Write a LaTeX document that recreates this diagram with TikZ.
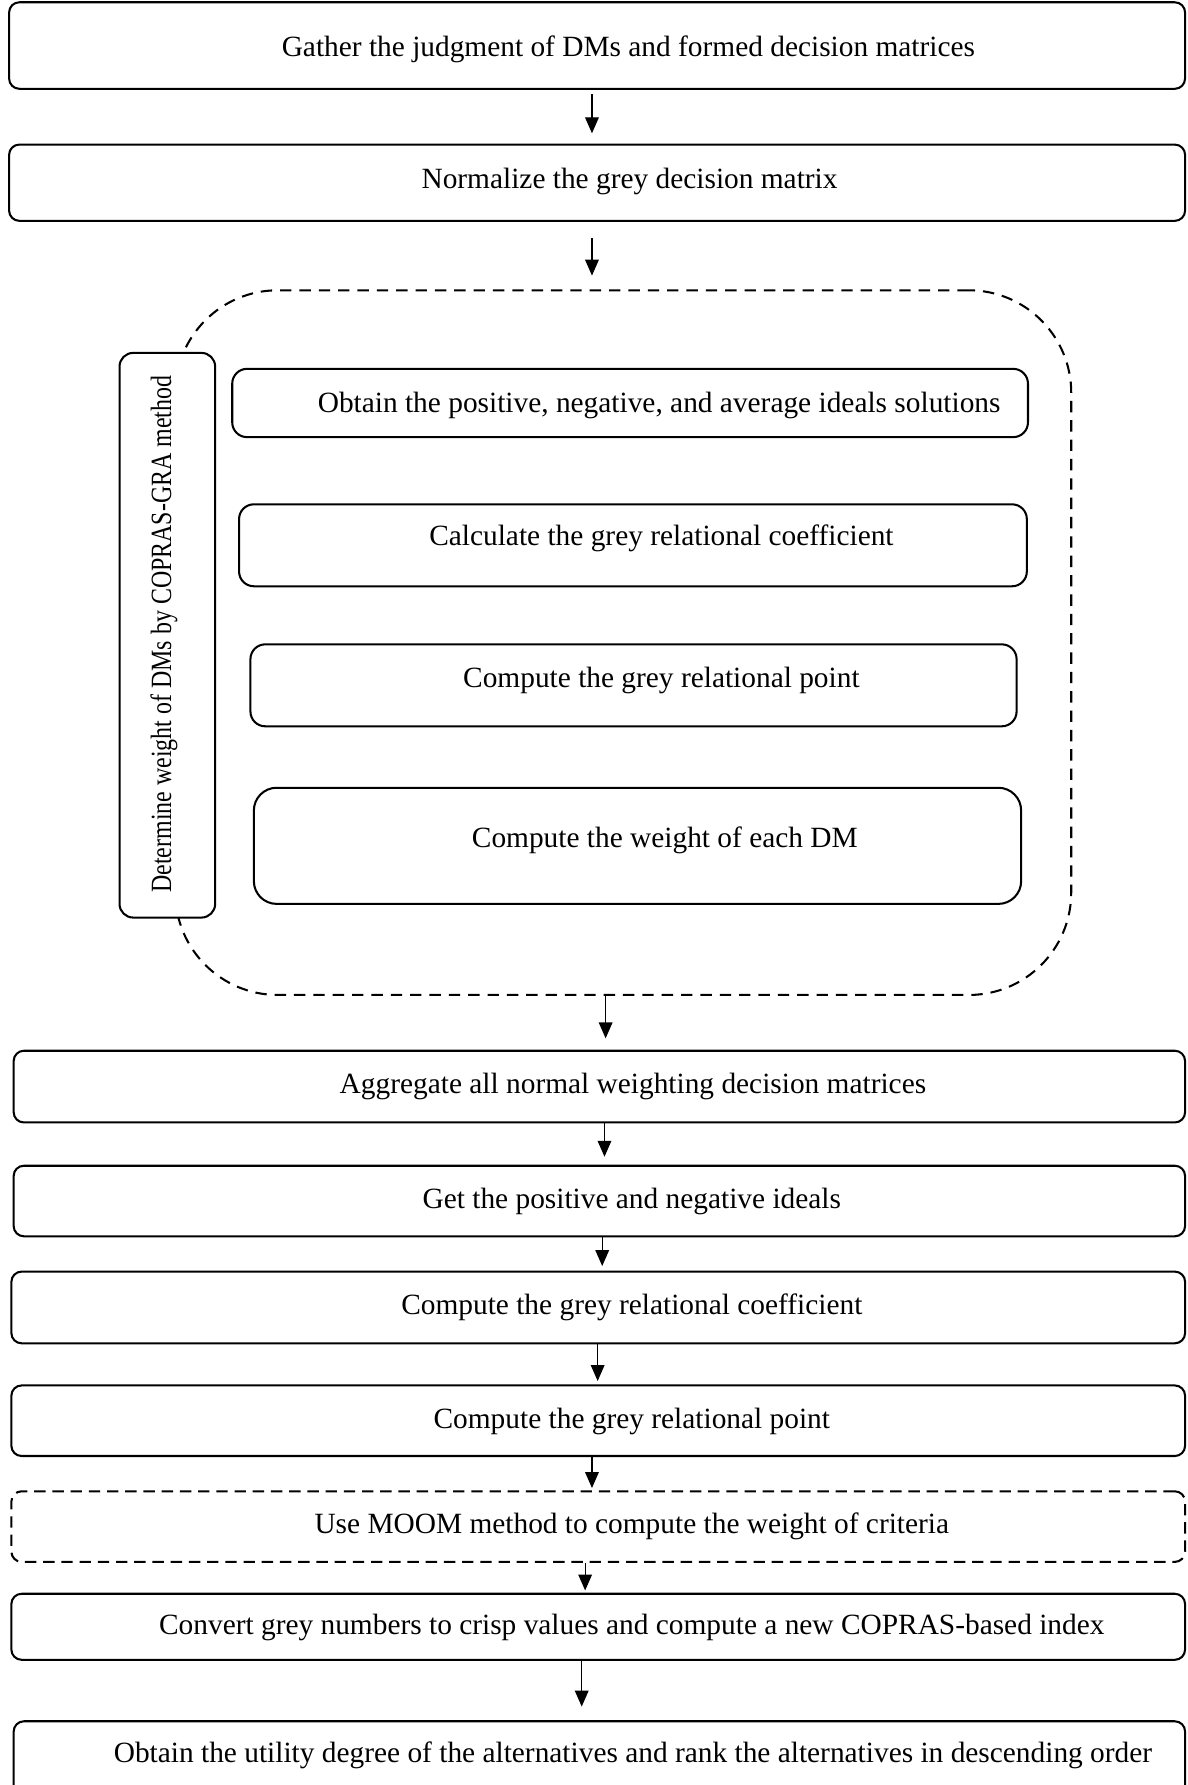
\documentclass[tikz,border=0pt]{standalone}
\usepackage{fontspec}
\setmainfont{Liberation Serif}
\usetikzlibrary{arrows.meta}
\definecolor{RuleCol}{RGB}{0,0,0}
\tikzset{
  fcbox/.style={draw=RuleCol, line width=1.8pt, rounded corners=9pt, inner sep=0pt},
  fcdash/.style={fcbox, dash pattern=on 10pt off 6pt},
  fcinner/.style={fcbox, rounded corners=13pt},
  fcgroup/.style={draw=RuleCol, line width=1.8pt, dash pattern=on 10pt off 7pt, rounded corners=90pt, inner sep=0pt},
  fcside/.style={fcbox, fill=white, rounded corners=12pt},
  fcarrow/.style={-{Triangle[length=14pt,width=12pt]}, line width=1.1pt, draw=RuleCol},
  fclab/.style={font=\fontsize{25.8}{30}\selectfont, inner sep=0pt, yshift=-3pt},
  fcsidelab/.style={font=\fontsize{25.8}{30}\selectfont, inner sep=0pt, rotate=90}
}
% box: name, style, left, right, top, bottom, text x, text y, text
\newcommand{\FCStep}[9]{%
  \node[#2, minimum width={#4-#3}, minimum height={#6-#5}] (#1) at ({(#3+#4)/2},{-(#5+#6)/2}) {};
  \node[fclab] (#1-t) at (#7,-#8) {#9};
}

\begin{document}
\begin{tikzpicture}[x=1pt,y=1pt]
  \useasboundingbox (0,0) rectangle (1043,-1568);
  % main column
  \FCStep{gather}{fcbox}{8}{1041}{2}{78}{552}{40}{Gather the judgment of DMs and formed decision matrices}
  \FCStep{normal}{fcbox}{8}{1041}{127}{194}{553}{156}{Normalize the grey decision matrix}
  \FCStep{aggr}{fcbox}{12}{1041}{923}{986}{556}{951}{Aggregate all normal weighting decision matrices}
  \FCStep{ideal}{fcbox}{12}{1041}{1024}{1086}{555}{1052}{Get the positive and negative ideals}
  \FCStep{coef}{fcbox}{10}{1041}{1117}{1180}{555}{1145}{Compute the grey relational coefficient}
  \FCStep{point}{fcbox}{10}{1041}{1217}{1279}{555}{1246}{Compute the grey relational point}
  \FCStep{moom}{fcdash}{10}{1041}{1310}{1372}{555}{1338}{Use MOOM method to compute the weight of criteria}
  \FCStep{crisp}{fcbox}{10}{1041}{1400}{1458}{555}{1427}{Convert grey numbers to crisp values and compute a new COPRAS-based index}
  \FCStep{rank}{fcbox}{12}{1041}{1512}{1610}{556}{1539}{Obtain the utility degree of the alternatives and rank the alternatives in descending order}
  % COPRAS-GRA group
  \node[fcgroup, minimum width=787, minimum height=619] (copras) at (547.5,-564.5) {};
  \node[fcside, minimum width=84, minimum height=496] (side) at (147,-558) {};
  \node[fcsidelab] (side-t) at (144,-557) {\scalebox{0.815}[1]{Determine weight of DMs by COPRAS-GRA method}};
  \FCStep{solut}{fcinner}{204}{903}{324}{384}{579}{353}{Obtain the positive, negative, and average ideals solutions}
  \FCStep{calc}{fcinner}{210}{902}{443}{515}{581}{470}{Calculate the grey relational coefficient}
  \FCStep{gpoint}{fcinner}{220}{893}{566}{638}{581}{595}{Compute the grey relational point}
  \FCStep{dmw}{fcinner, rounded corners=20pt}{223}{897}{692}{794}{584}{735}{Compute the weight of each DM}
  % arrows
  \draw[fcarrow, shorten <=4pt, shorten >=9pt] ([xshift=-4.5pt]gather.south) -- ([xshift=-4.5pt]normal.north);
  \draw[fcarrow, shorten <=14pt, shorten >=12pt] ([xshift=-4.5pt]normal.south) -- ([xshift=-27.5pt]copras.north);
  \draw[fcarrow, shorten >=10pt] ([xshift=-15.5pt]copras.south) -- ([xshift=5.5pt]aggr.north);
  \draw[fcarrow, shorten >=7pt] ([xshift=4.5pt]aggr.south) -- ([xshift=4.5pt]ideal.north);
  \draw[fcarrow, shorten >=4pt] ([xshift=2.5pt]ideal.south) -- ([xshift=3.5pt]coef.north);
  \draw[fcarrow, shorten >=3pt] ([xshift=-0.5pt]coef.south) -- ([xshift=-0.5pt]point.north);
  \draw[fcarrow, shorten >=2pt] ([xshift=-5.5pt]point.south) -- ([xshift=-5.5pt]moom.north);
  \draw[fcarrow, shorten >=2pt] ([xshift=-11.5pt]moom.south) -- ([xshift=-11.5pt]crisp.north);
  \draw[fcarrow, shorten >=12pt] ([xshift=-14.5pt]crisp.south) -- ([xshift=-15.5pt]rank.north);
\end{tikzpicture}
\end{document}
